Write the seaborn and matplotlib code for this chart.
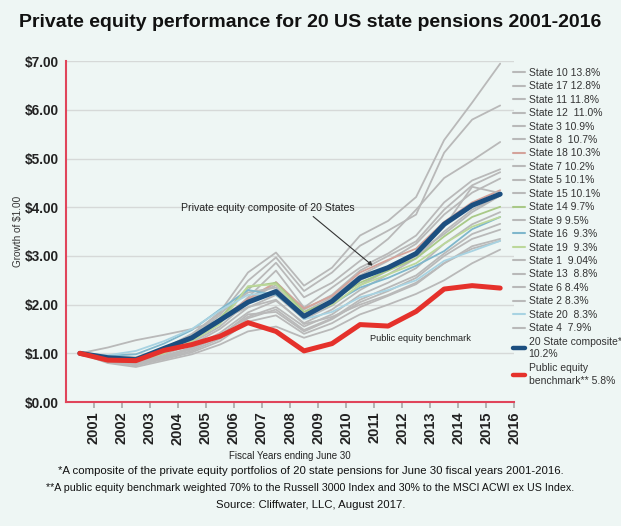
import matplotlib
matplotlib.use("Agg")
import matplotlib.pyplot as plt
import seaborn as sns
import pandas as pd
from matplotlib.lines import Line2D

# ---------------- data ----------------
years = [str(y) for y in range(2001, 2017)]
positions = list(range(16))

state10 = [1.00, 0.95, 0.92, 1.10, 1.38, 1.85, 2.66, 3.07, 2.39, 2.76, 3.42, 3.72, 4.21, 5.38, 6.15, 6.95]
state17 = [1.00, 0.93, 0.90, 1.08, 1.35, 1.78, 2.49, 2.97, 2.28, 2.66, 3.21, 3.52, 3.85, 5.12, 5.80, 6.09]
state11 = [1.00, 0.92, 0.88, 1.05, 1.30, 1.70, 2.30, 2.86, 2.15, 2.45, 2.90, 3.35, 3.95, 4.60, 4.96, 5.34]
state12 = [1.00, 0.90, 0.85, 1.02, 1.25, 1.62, 2.15, 2.70, 1.94, 2.35, 2.76, 3.05, 3.42, 4.10, 4.55, 4.78]
state3 = [1.00, 0.88, 0.83, 1.00, 1.22, 1.55, 2.05, 2.46, 1.90, 2.20, 2.70, 3.00, 3.30, 3.95, 4.45, 4.72]
state8 = [1.00, 0.90, 0.86, 1.05, 1.28, 1.66, 2.10, 2.40, 1.85, 2.15, 2.60, 2.90, 3.25, 3.85, 4.30, 4.59]
state18 = [1.00, 0.89, 0.85, 1.04, 1.30, 1.70, 2.12, 2.46, 1.92, 2.18, 2.66, 2.92, 3.15, 3.70, 4.10, 4.35]
state7 = [1.00, 0.87, 0.82, 0.98, 1.18, 1.50, 1.94, 2.20, 1.70, 1.98, 2.40, 2.70, 3.00, 3.60, 4.42, 4.29]
state5 = [1.00, 0.86, 0.80, 0.95, 1.12, 1.42, 1.84, 2.08, 1.62, 1.90, 2.30, 2.62, 2.95, 3.50, 3.95, 4.24]
state15 = [1.00, 0.92, 0.90, 1.10, 1.40, 1.82, 2.25, 2.35, 1.80, 2.05, 2.50, 2.78, 3.05, 3.45, 3.90, 4.24]
state14 = [1.00, 0.90, 0.86, 1.05, 1.32, 1.72, 2.36, 2.45, 1.85, 2.08, 2.45, 2.70, 2.95, 3.40, 3.80, 4.01]
state9 = [1.00, 0.85, 0.78, 0.92, 1.10, 1.38, 1.75, 1.95, 1.55, 1.80, 2.20, 2.45, 2.75, 3.25, 3.65, 3.90]
state16 = [1.00, 0.95, 0.98, 1.20, 1.48, 1.90, 2.30, 2.20, 1.78, 2.02, 2.35, 2.55, 2.80, 3.10, 3.55, 3.80]
state19 = [1.00, 0.88, 0.84, 1.00, 1.25, 1.60, 2.38, 2.42, 1.80, 2.00, 2.40, 2.62, 2.85, 3.25, 3.60, 3.80]
state1 = [1.00, 0.84, 0.78, 0.90, 1.05, 1.30, 1.72, 1.90, 1.48, 1.72, 2.10, 2.35, 2.60, 3.05, 3.45, 3.66]
state13 = [1.00, 0.86, 0.80, 0.93, 1.08, 1.35, 1.80, 1.85, 1.45, 1.70, 2.05, 2.28, 2.55, 3.00, 3.35, 3.54]
state6 = [1.00, 0.82, 0.75, 0.88, 1.02, 1.25, 1.65, 1.78, 1.40, 1.62, 1.95, 2.18, 2.42, 2.85, 3.20, 3.35]
state2 = [1.00, 1.12, 1.27, 1.38, 1.50, 1.68, 1.95, 2.10, 1.60, 1.75, 2.00, 2.20, 2.45, 2.85, 3.15, 3.31]
state20 = [1.00, 0.96, 1.05, 1.25, 1.50, 1.88, 2.20, 2.25, 1.70, 1.85, 2.15, 2.30, 2.50, 2.90, 3.10, 3.31]
state4 = [1.00, 0.80, 0.72, 0.85, 0.98, 1.18, 1.45, 1.55, 1.32, 1.50, 1.80, 2.00, 2.22, 2.50, 2.85, 3.13]

composite = [1.00, 0.91, 0.87, 1.10, 1.32, 1.68, 2.05, 2.27, 1.76, 2.07, 2.55, 2.76, 3.05, 3.65, 4.04, 4.27]
benchmark = [1.00, 0.86, 0.85, 1.06, 1.18, 1.35, 1.63, 1.45, 1.05, 1.20, 1.59, 1.56, 1.86, 2.32, 2.39, 2.34]

state_labels = ["State 10 13.8%", "State 17 12.8%", "State 11 11.8%", "State 12  11.0%",
                "State 3 10.9%", "State 8  10.7%", "State 18 10.3%", "State 7 10.2%",
                "State 5 10.1%", "State 15 10.1%", "State 14 9.7%", "State 9 9.5%",
                "State 16  9.3%", "State 19  9.3%", "State 1  9.04%", "State 13  8.8%",
                "State 6 8.4%", "State 2 8.3%", "State 20  8.3%", "State 4  7.9%"]
composite_label = "20 State composite*\n10.2%"
benchmark_label = "Public equity\nbenchmark** 5.8%"

y_ticks = [0, 1, 2, 3, 4, 5, 6, 7]
y_ticklabels = ["$0.00", "$1.00", "$2.00", "$3.00", "$4.00", "$5.00", "$6.00", "$7.00"]

# ---------------- style ----------------
state_series = [state10, state17, state11, state12, state3, state8, state18, state7, state5,
                state15, state14, state9, state16, state19, state1, state13, state6, state2,
                state20, state4]
gray = "#b9b9b9"
special_colors = {"State 18": "#d4a39b", "State 14": "#a9c987", "State 16": "#7fb7cc",
                  "State 19": "#bcd89a", "State 20": "#a8d3e2"}

bg = "#eef6f4"
sns.set_theme(style="white")
plt.rcParams["font.family"] = ["Liberation Sans", "DejaVu Sans"]

fig = plt.figure(figsize=(6.21, 5.26), dpi=100, facecolor=bg)
ax = fig.add_axes([0.106, 0.2357, 0.722, 0.648])
ax.set_facecolor(bg)

handles = []
for lab, vals in zip(state_labels, state_series):
    key = " ".join(lab.split()[:2])
    c = special_colors.get(key, gray)
    sns.lineplot(x=positions, y=vals, ax=ax, color=c, lw=1.3, zorder=3, legend=False)
    handles.append(Line2D([], [], color=c, lw=1.5))

sns.lineplot(x=positions, y=composite, ax=ax, color="#1c4f80", lw=3.6, zorder=5, legend=False)
sns.lineplot(x=positions, y=benchmark, ax=ax, color="#e5312b", lw=3.6, zorder=5, legend=False)
handles.append(Line2D([], [], color="#1c4f80", lw=3.2))
handles.append(Line2D([], [], color="#e5312b", lw=3.2))

ax.set_xlim(-0.5, 15.5)
ax.set_ylim(0, 7)
ax.set_yticks(y_ticks)
ax.set_yticklabels(y_ticklabels, fontsize=9.8, fontweight="bold", color="#222222")
ax.set_xticks([p + 0.5 for p in positions])
ax.set_xticklabels(years, rotation=90, fontsize=10.5, fontweight="bold", color="#222222")
ax.tick_params(axis="x", bottom=True, length=4, color="#aaaaaa", pad=3)
ax.tick_params(axis="y", left=False, length=0, pad=5)
ax.grid(axis="y", color="#d6d9d8", lw=1.0)
ax.set_axisbelow(True)
for s in ["top", "right"]:
    ax.spines[s].set_visible(False)
for s in ["left", "bottom"]:
    ax.spines[s].set_color("#e0455a")
    ax.spines[s].set_linewidth(1.5)
    ax.spines[s].set_zorder(6)

ax.set_ylabel("Growth of $1.00", fontsize=7.2, color="#333333")
ax.yaxis.set_label_coords(-0.095, 0.5)
ax.set_xlabel("")

# annotations
ax.annotate("Private equity composite of 20 States", xy=(10.45, 2.80), xytext=(3.6, 3.98),
            fontsize=7.6, color="#222222", va="center", ha="left",
            arrowprops=dict(arrowstyle="-|>", color="#333333", lw=0.8, mutation_scale=6,
                            shrinkA=0, shrinkB=0, relpos=(0.74, 0.0)))
ax.text(10.36, 1.30, "Public equity benchmark", fontsize=6.7, color="#222222", va="center", ha="left")

# legend
leg_labels = state_labels + [composite_label, benchmark_label]
leg = fig.legend(handles, leg_labels, loc="upper left", bbox_to_anchor=(0.826, 0.871),
                 frameon=False, fontsize=7.5, handlelength=1.15, handletextpad=0.35,
                 labelspacing=0.33, borderaxespad=0, borderpad=0)
for t in leg.get_texts():
    t.set_color("#333333")
    t.set_linespacing(1.35)

# title
fig.text(0.5, 0.958, "Private equity performance for 20 US state pensions 2001-2016",
         ha="center", va="center", fontsize=14, fontweight="bold", color="#111111")

# x label and footnotes
fig.text(290 / 621, 1 - 456 / 526, "Fiscal Years ending June 30", ha="center", va="center",
         fontsize=7.0, color="#222222")
fig.text(0.5, 1 - 471 / 526,
         "*A composite of the private equity portfolios of 20 state pensions for June 30 fiscal years 2001-2016.",
         ha="center", va="center", fontsize=8.2, color="#111111")
fig.text(0.5, 1 - 488 / 526,
         "**A public equity benchmark weighted 70% to the Russell 3000 Index and 30% to the MSCI ACWI ex US Index.",
         ha="center", va="center", fontsize=7.7, color="#111111")
fig.text(0.5, 1 - 505 / 526, "Source: Cliffwater, LLC, August 2017.", ha="center", va="center",
         fontsize=8.2, color="#111111")

fig.savefig("out.png", dpi=100, facecolor=bg)
